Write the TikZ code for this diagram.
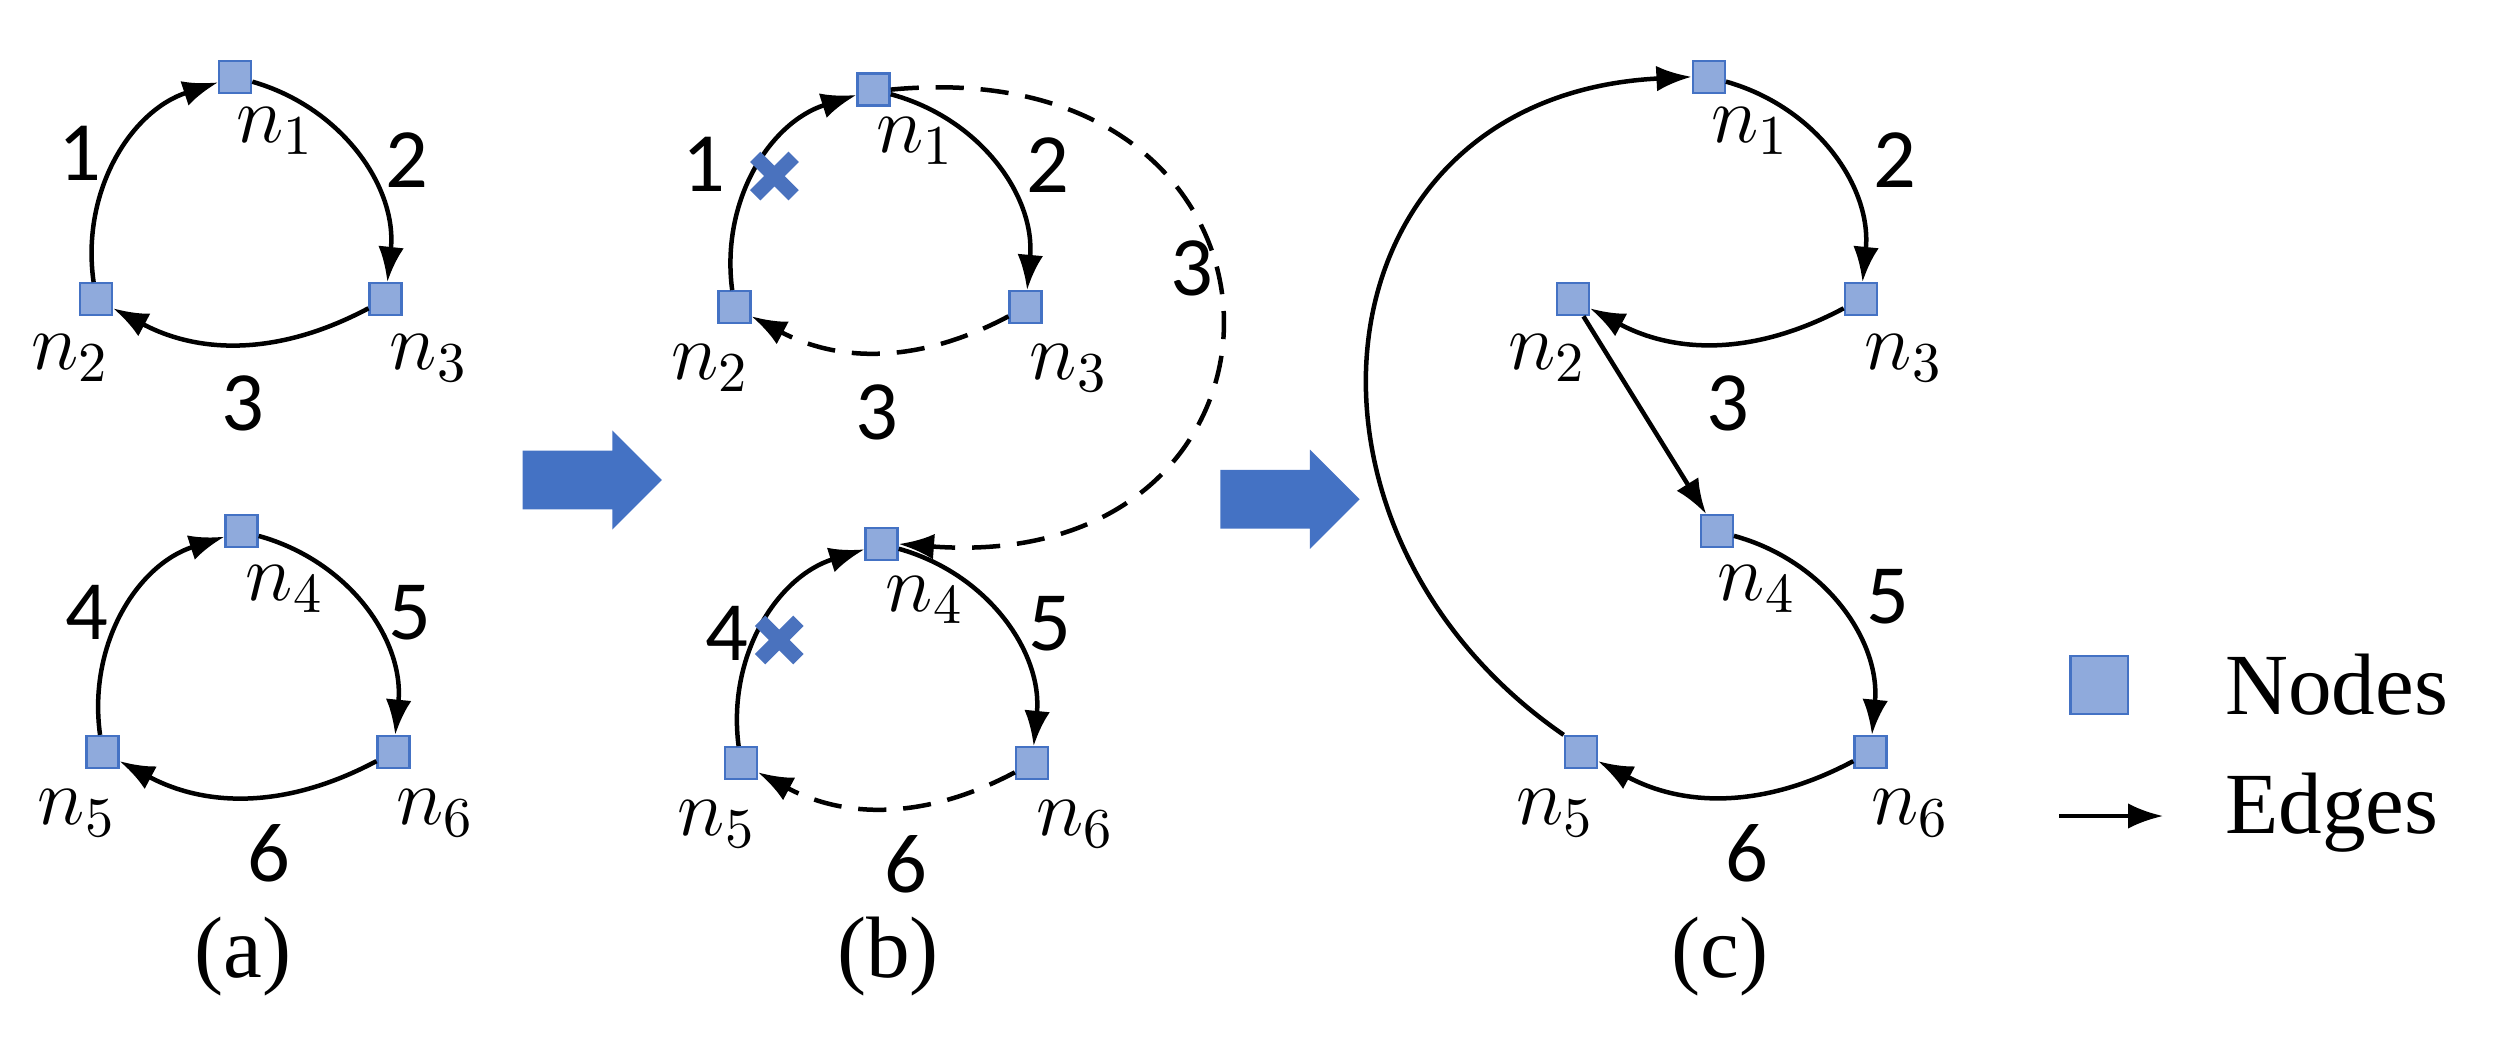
\documentclass[tikz,border=0pt]{standalone}
\usepackage{fontspec}
\setmainfont{Liberation Serif}
\newfontfamily\numf{Carlito}
\usetikzlibrary{arrows.meta,shapes.arrows}
\definecolor{nfill}{HTML}{8FAADC}
\definecolor{ndraw}{HTML}{4472C4}
\definecolor{xblue}{HTML}{4A72BE}
\begin{document}
\begin{tikzpicture}[x=0.01cm,y=-0.01cm,
  nd/.style={rectangle,fill=nfill,draw=ndraw,line width=0.4pt,minimum size=0.2cm,inner sep=0pt},
  lb/.style={font=\fontsize{14}{16}\selectfont,inner sep=0pt},
  num/.style={font=\numf\fontsize{15}{17}\selectfont,inner sep=0pt},
  e/.style={-{Latex[length=2.2mm,width=1.6mm]},line width=0.8pt,black},
  dsh/.style={e,dashed,dash pattern=on 5pt off 3pt},
  xl/.style={line width=2.6pt,xblue},
  captxt/.style={font=\fontsize{15.5}{18}\selectfont,inner sep=0pt},
  barrow/.style={single arrow,fill=ndraw,draw=none,minimum height=0.87cm,minimum width=0.62cm,single arrow head extend=0.06cm,inner sep=0.08cm}]
\useasboundingbox (0,0) rectangle (1560,663);
% ---------- (a)
\node[nd] (a1) at (147,48) {};
\node[nd] (a2) at (60,187) {};
\node[nd] (a3) at (241,187) {};
\node[nd] (a4) at (151,332) {};
\node[nd] (a5) at (64,470) {};
\node[nd] (a6) at (246,470) {};
\draw[e] (a2) to[bend left=40] (a1);
\draw[e] (a1) to[bend left=40] (a3);
\draw[e] (a3) to[bend left=28] (a2);
\draw[e] (a5) to[bend left=40] (a4);
\draw[e] (a4) to[bend left=40] (a6);
\draw[e] (a6) to[bend left=28] (a5);
\node[lb] (la1) at (172,82) {$n_1$};
\node[lb] (la2) at (44,224) {$n_2$};
\node[lb] (la3) at (268,224) {$n_3$};
\node[lb] (la4) at (178,368) {$n_4$};
\node[lb] (la5) at (48,508) {$n_5$};
\node[lb] (la6) at (272,508) {$n_6$};
\node[num] (ea1) at (50,96) {1};
\node[num] (ea2) at (254,100) {2};
\node[num] (ea3) at (152,252) {3};
\node[num] (ea4) at (54,383) {4};
\node[num] (ea5) at (256,383) {5};
\node[num] (ea6) at (168,533) {6};
\node[captxt] (ca) at (152,598) {(a)};
% ---------- arrow 1
\node[barrow] (ar1) at (361,300) {};
% ---------- (b)
\node[nd] (b1) at (546,56) {};
\node[nd] (b2) at (459,192) {};
\node[nd] (b3) at (641,192) {};
\node[nd] (b4) at (551,340) {};
\node[nd] (b5) at (463,477) {};
\node[nd] (b6) at (645,477) {};
\draw[e] (b2) to[bend left=40] (b1);
\draw[e] (b1) to[bend left=40] (b3);
\draw[dsh] (b3) to[bend left=28] (b2);
\draw[e] (b5) to[bend left=40] (b4);
\draw[e] (b4) to[bend left=40] (b6);
\draw[dsh] (b6) to[bend left=28] (b5);
\draw[dsh] (b1.east) .. controls (830,30) and (830,360) .. (b4.east);
\coordinate (x1) at (484,110);
\coordinate (x2) at (487,400);
\draw[xl] ([shift={(-12,-12)}]x1) -- ([shift={(12,12)}]x1) ([shift={(-12,12)}]x1) -- ([shift={(12,-12)}]x1);
\draw[xl] ([shift={(-12,-12)}]x2) -- ([shift={(12,12)}]x2) ([shift={(-12,12)}]x2) -- ([shift={(12,-12)}]x2);
\node[lb] (lb1) at (572,88) {$n_1$};
\node[lb] (lb2) at (444,230) {$n_2$};
\node[lb] (lb3) at (668,230) {$n_3$};
\node[lb] (lb4) at (578,375) {$n_4$};
\node[lb] (lb5) at (448,515) {$n_5$};
\node[lb] (lb6) at (672,515) {$n_6$};
\node[num] (eb1) at (440,103) {1};
\node[num] (eb2) at (655,103) {2};
\node[num] (eb3) at (548,258) {3};
\node[num] (eb3b) at (745,168) {3};
\node[num] (eb4) at (454,396) {4};
\node[num] (eb5) at (656,390) {5};
\node[num] (eb6) at (566,540) {6};
\node[captxt] (cb) at (555,598) {(b)};
% ---------- arrow 2
\node[barrow] (ar2) at (797,312) {};
% ---------- (c)
\node[nd] (c1) at (1068,48) {};
\node[nd] (c2) at (983,187) {};
\node[nd] (c3) at (1163,187) {};
\node[nd] (c4) at (1073,332) {};
\node[nd] (c5) at (988,470) {};
\node[nd] (c6) at (1169,470) {};
\draw[e] (c5.north west) .. controls (790,330) and (820,60) .. (c1.west);
\draw[e] (c1) to[bend left=40] (c3);
\draw[e] (c3) to[bend left=28] (c2);
\draw[e] (c2) -- (c4);
\draw[e] (c4) to[bend left=40] (c6);
\draw[e] (c6) to[bend left=28] (c5);
\node[lb] (lc1) at (1094,82) {$n_1$};
\node[lb] (lc2) at (967,224) {$n_2$};
\node[lb] (lc3) at (1190,224) {$n_3$};
\node[lb] (lc4) at (1098,368) {$n_4$};
\node[lb] (lc5) at (972,508) {$n_5$};
\node[lb] (lc6) at (1194,508) {$n_6$};
\node[num] (ec2) at (1184,100) {2};
\node[num] (ec3) at (1080,252) {3};
\node[num] (ec5) at (1180,373) {5};
\node[num] (ec6) at (1092,533) {6};
\node[captxt] (cc) at (1075,598) {(c)};
% ---------- legend
\node[nd,minimum size=0.36cm] (lgn) at (1312,428) {};
\coordinate (lgs) at (1287,510);
\coordinate (lge) at (1352,510);
\draw[e] (lgs) -- (lge);
\node[captxt,anchor=west] (tn) at (1390,428) {Nodes};
\node[captxt,anchor=west] (te) at (1390,508) {Edges};
\end{tikzpicture}
\end{document}
